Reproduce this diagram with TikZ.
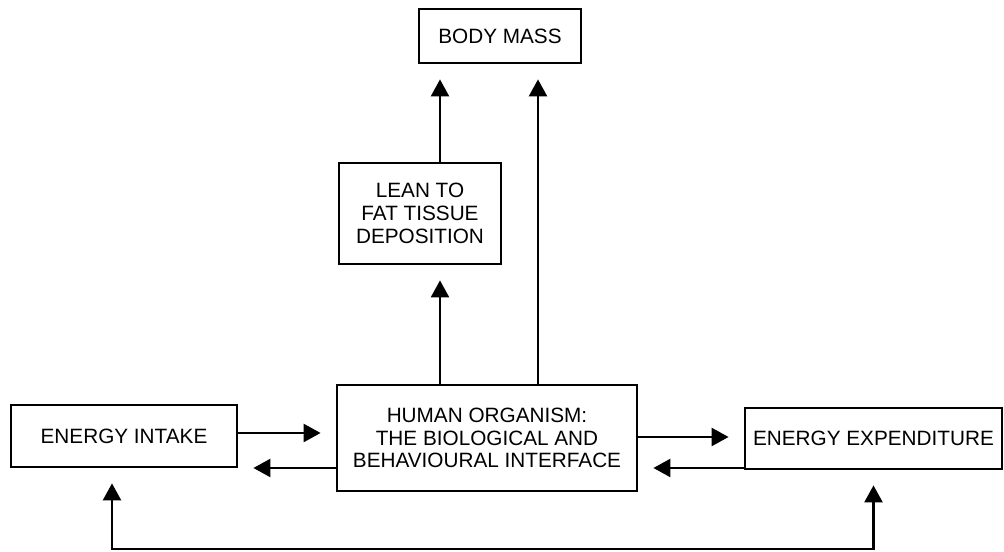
\documentclass[tikz,border=0pt]{standalone}
\usepackage{fontspec}
\setmainfont{Liberation Sans}
\usetikzlibrary{arrows.meta}

\begin{document}
\begin{tikzpicture}[
        box/.style={draw, line width=1.6pt, align=center, inner sep=0pt,
            font=\fontsize{11.8}{13}\selectfont},
        flow/.style={line width=1.4pt, -{Triangle[length=3.4mm,width=3.6mm]}, shorten >=0.3cm}
    ]
                \useasboundingbox (0, 0) rectangle (20.08, 11.04);
                \node [box, minimum width=3.24cm, minimum height=1.08cm] (body) at (10.0, 10.32) {BODY MASS};
                \node [box, minimum width=3.24cm, minimum height=2.02cm] (lean) at (8.4, 6.77) {LEAN TO\\FAT TISSUE\\DEPOSITION};
                \node [box, minimum width=6.0cm, minimum height=2.12cm] (human) at (9.74, 2.28) {HUMAN ORGANISM:\\THE BIOLOGICAL AND\\BEHAVIOURAL INTERFACE};
                \node [box, minimum width=4.52cm, minimum height=1.24cm] (intake) at (2.48, 2.32) {ENERGY INTAKE};
                \node [box, minimum width=5.14cm, minimum height=1.22cm] (expend) at (17.47, 2.27) {ENERGY EXPENDITURE};
                \coordinate (loop) at (10.0, 0.06);
                \draw [flow] ([xshift=0.4cm]lean.north) -- ([xshift=0.4cm]lean.north |- body.south);
                \draw [flow] ([xshift=0.4cm]lean.south |- human.north) -- ([xshift=0.4cm]lean.south);
                \draw [flow] ([xshift=1.02cm]human.north) -- ([xshift=1.02cm]human.north |- body.south);
                \draw [flow] ([yshift=0.06cm]intake.east) -- ([yshift=0.06cm]intake.east -| human.west);
                \draw [flow] ([yshift=-0.6cm]human.west) -- ([yshift=-0.6cm]human.west -| intake.east);
                \draw [flow] ([yshift=0.02cm]human.east) -- ([yshift=0.02cm]human.east -| expend.west);
                \draw [flow] ([yshift=-0.59cm]expend.west) -- ([yshift=-0.59cm]expend.west -| human.east);
                \draw [flow, {Triangle[length=3.4mm,width=3.6mm]}-{Triangle[length=3.4mm,width=3.6mm]}, shorten <=0.3cm] ([xshift=-0.24cm]intake.south) |- (loop) -| (expend.south);
            \end{tikzpicture}
\end{document}
